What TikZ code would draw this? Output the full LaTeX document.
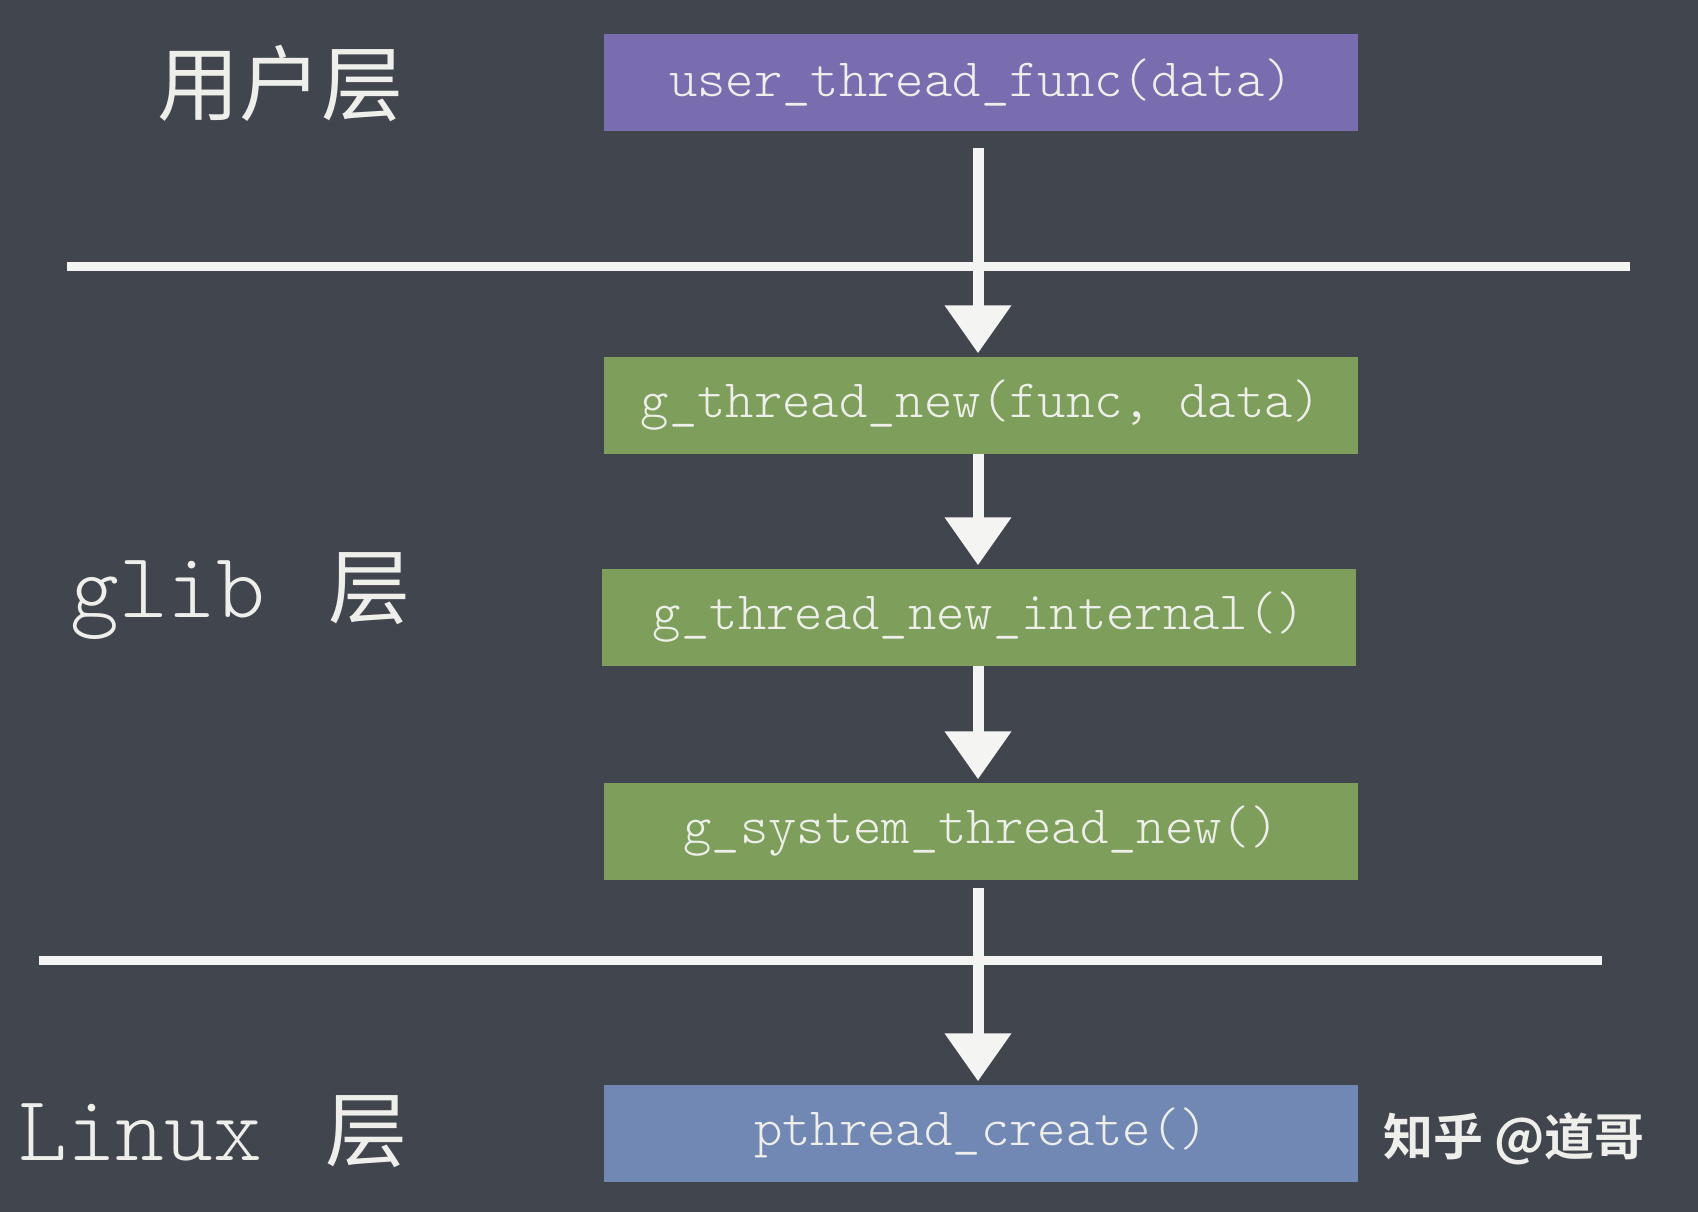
\documentclass[tikz,border=0pt]{standalone}
\usepackage{fontspec}
\setmonofont{Latin Modern Mono Light}
\newfontfamily\cjk{Noto Sans CJK SC}
\newfontfamily\cjkbold{Noto Sans CJK SC Bold}
\usetikzlibrary{arrows.meta}
\definecolor{board}{HTML}{41454D}
\definecolor{chalk}{HTML}{F4F4F2}
\definecolor{txt}{HTML}{EEEEEA}
\definecolor{userc}{HTML}{7A6DAF}
\definecolor{glibc}{HTML}{7E9F5B}
\definecolor{linuxc}{HTML}{7288B4}
\tikzset{
  fbox/.style={minimum width=754pt, minimum height=97pt, inner sep=0pt,
    text=txt, font=\ttfamily\fontsize{54}{58}\selectfont},
  layer/.style={anchor=west, text=txt, inner sep=0pt,
    text height=60pt, text depth=15pt},
  chalkline/.style={draw=chalk, line width=9pt},
  flow/.style={draw=chalk, line width=11pt,
    -{Triangle[width=64pt,length=48pt]}, shorten >=3pt}
}
\begin{document}
\begin{tikzpicture}[x=1pt,y=-1pt]
\fill[board] (0,0) rectangle (1698,1212);
\useasboundingbox (0,0) rectangle (1698,1212);

% layer labels
\node[layer, font=\cjk\fontsize{82}{90}\selectfont] (lu) at (157,92) {用户层};
\node[layer, font=\ttfamily\fontsize{93}{100}\selectfont] (lg) at (70,595) {glib\hspace{14pt} {\cjk\fontsize{82}{90}\selectfont 层}};
\node[layer, font=\ttfamily\fontsize{93}{100}\selectfont] (ll) at (18,1138) {Linux\hspace{14pt} {\cjk\fontsize{82}{90}\selectfont 层}};

% separators
\coordinate (s1a) at (67,266);
\coordinate (s1b) at (1630,266);
\coordinate (s2a) at (39,960);
\coordinate (s2b) at (1602,960);
\draw[chalkline] (s1a) -- (s1b);
\draw[chalkline] (s2a) -- (s2b);

% function boxes
\node[fbox, fill=userc]  (u)  at (981,83)   {user\_thread\_func(data)};
\node[fbox, fill=glibc]  (g1) at (981,405)  {g\_thread\_new(func, data)};
\node[fbox, fill=glibc]  (g2) at (979,617)  {g\_thread\_new\_internal()};
\node[fbox, fill=glibc]  (g3) at (981,831)  {g\_system\_thread\_new()};
\node[fbox, fill=linuxc] (p)  at (981,1133) {pthread\_create()};

% arrows
\draw[flow] ([yshift=-16pt]u.south -| 978,0) -- (g1.north -| 978,0);
\draw[flow] (g1.south -| 978,0) -- (g2.north -| 978,0);
\draw[flow] (g2.south -| 978,0) -- (g3.north -| 978,0);
\draw[flow] ([yshift=-8pt]g3.south -| 978,0) -- (p.north -| 978,0);

% watermark
\node[anchor=west, text=txt, inner sep=0pt, font=\cjkbold\fontsize{50}{55}\selectfont] (wm) at (1383,1139) {知乎 @道哥};
\end{tikzpicture}
\end{document}
